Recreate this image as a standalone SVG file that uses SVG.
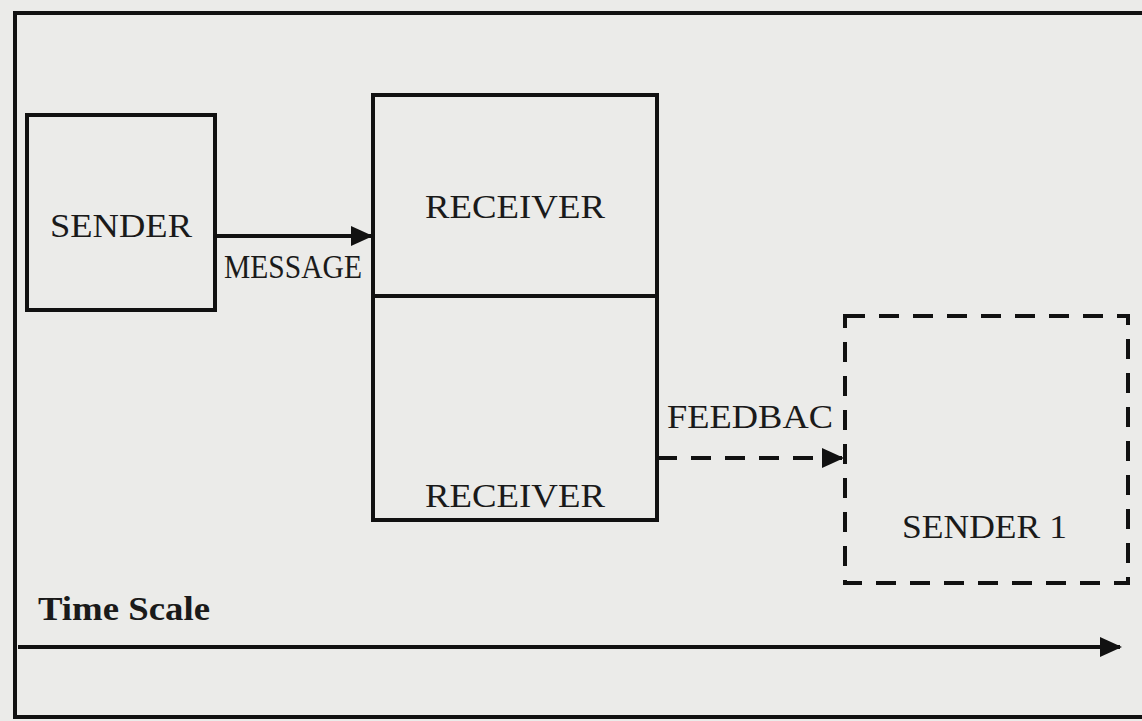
<svg xmlns="http://www.w3.org/2000/svg" width="1142" height="721" viewBox="0 0 1142 721">
<defs>
<style>
.box{fill:none;stroke:#111;stroke-width:4}
.dash{fill:none;stroke:#111;stroke-width:4;stroke-dasharray:20 14}
.t{font-family:"Liberation Serif","Times New Roman",serif;font-size:34px;fill:#1a1a1a}
.line{stroke:#111;stroke-width:4;fill:none}
</style>
<marker id="ahL" markerWidth="22" markerHeight="22" refX="20" refY="11" orient="auto" markerUnits="userSpaceOnUse" viewBox="0 0 22 22">
<path d="M0,1 L22,11 L0,21 z" fill="#111"/>
</marker>
</defs>
<rect x="0" y="0" width="1142" height="721" fill="#ebebe9"/>
<rect x="15" y="13" width="1140" height="704" class="box"/>
<g id="sender">
<rect x="27" y="115" width="188" height="195" class="box"/>
<text x="50" y="237" class="t" textLength="142" lengthAdjust="spacingAndGlyphs">SENDER</text>
</g>
<g id="receiver">
<rect x="373" y="95" width="284" height="425" class="box"/>
<line x1="373" y1="296" x2="657" y2="296" class="line"/>
<text x="425" y="218" class="t" font-size="36" textLength="180" lengthAdjust="spacingAndGlyphs">RECEIVER</text>
<text x="425" y="507" class="t" font-size="36" textLength="180" lengthAdjust="spacingAndGlyphs">RECEIVER</text>
</g>
<g id="sender1">
<rect x="845" y="316" width="283" height="267" class="dash"/>
<text x="902" y="538" class="t" textLength="165" lengthAdjust="spacingAndGlyphs">SENDER 1</text>
</g>
<g id="timescale">
<text x="38" y="620" class="t" font-weight="bold" font-size="32" textLength="172" lengthAdjust="spacingAndGlyphs">Time Scale</text>
</g>
<g id="connectors">
<line x1="215" y1="236" x2="371" y2="236" class="line" marker-end="url(#ahL)"/>
<text x="224" y="278" class="t" font-size="30" textLength="138" lengthAdjust="spacingAndGlyphs">MESSAGE</text>
<line x1="657" y1="458" x2="842" y2="458" class="dash" marker-end="url(#ahL)"/>
<text x="667" y="428" class="t" font-size="36" textLength="166" lengthAdjust="spacingAndGlyphs">FEEDBAC</text>
<line x1="18" y1="647" x2="1120" y2="647" class="line" stroke-width="5" marker-end="url(#ahL)"/>
</g>
</svg>
